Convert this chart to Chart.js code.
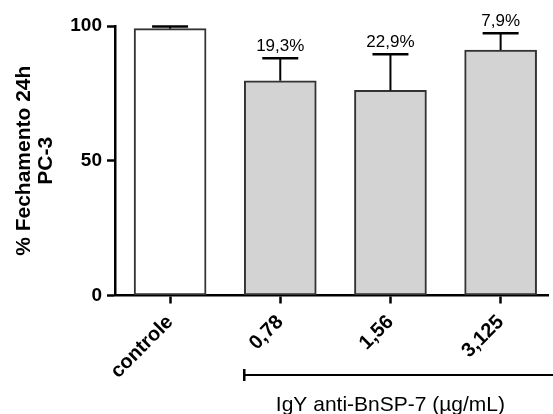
<!DOCTYPE html>
<html>
<head>
<meta charset="utf-8">
<script src="https://cdn.jsdelivr.net/npm/chart.js@4.4.1/dist/chart.umd.min.js"></script>
<style>
  html, body { margin: 0; padding: 0; background: #fff; }
  #wrap { width: 553px; height: 414px; }
</style>
</head>
<body>
<div id="wrap"><canvas id="c" width="553" height="414"></canvas></div>
<script>
// Wound closure after 24 h, PC-3 cells
const categories = ['controle', '0,78', '1,56', '3,125'];
const closure = [99.0, 79.7, 76.1, 91.1];       // mean % closure
const closureErr = [0.8, 8.3, 13.4, 6.2];       // upper error (SD)
const barColors = ['#ffffff', '#d3d3d3', '#d3d3d3', '#d3d3d3'];
const yTicks = [0, 50, 100];
const yTitle = ['% Fechamento 24h', 'PC-3'];
const groupLabel = 'IgY anti-BnSP-7 (\u00b5g/mL)';

const FONT = '"Liberation Sans", Arial, sans-serif';
const BAR_W = 72;

// reduction relative to the control, printed above each treated bar
function reductionText(i) {
  return (closure[0] - closure[i]).toFixed(1).replace('.', ',') + '%';
}

const errorBars = {
  id: 'errorBars',
  afterDatasetsDraw(chart) {
    const ctx = chart.ctx;
    const xs = chart.scales.x, ys = chart.scales.y;
    ctx.save();
    closure.forEach((v, i) => {
      const x = xs.getPixelForValue(i);
      const yTop = ys.getPixelForValue(v + closureErr[i]);
      const yBar = ys.getPixelForValue(v);
      ctx.strokeStyle = '#000';
      ctx.lineWidth = 2;
      ctx.beginPath();
      ctx.moveTo(x, yBar);
      ctx.lineTo(x, yTop);
      ctx.stroke();
      ctx.lineWidth = 2.5;
      ctx.beginPath();
      ctx.moveTo(x - BAR_W / 4, yTop);
      ctx.lineTo(x + BAR_W / 4, yTop);
      ctx.stroke();
      if (i > 0) {
        ctx.fillStyle = '#000';
        ctx.font = '17px ' + FONT;
        ctx.textAlign = 'center';
        ctx.textBaseline = 'alphabetic';
        ctx.fillText(reductionText(i), x, yTop - 7);
      }
    });
    ctx.restore();
  }
};

// bracket under the treated groups with its caption
const groupBracket = {
  id: 'groupBracket',
  afterDraw(chart) {
    const ctx = chart.ctx;
    const xs = chart.scales.x;
    const x1 = xs.getPixelForValue(1) - BAR_W / 2;
    const x2 = xs.getPixelForValue(3.5);
    const y = 375;
    ctx.save();
    ctx.strokeStyle = '#000';
    ctx.lineWidth = 2;
    ctx.beginPath();
    ctx.moveTo(x1, y);
    ctx.lineTo(x2, y);
    ctx.stroke();
    ctx.lineWidth = 2.5;
    ctx.beginPath();
    ctx.moveTo(x1, y - 6);
    ctx.lineTo(x1, y + 6);
    ctx.stroke();
    ctx.fillStyle = '#000';
    ctx.font = '21px ' + FONT;
    ctx.textAlign = 'center';
    ctx.textBaseline = 'alphabetic';
    const xc = (xs.getPixelForValue(1) + xs.getPixelForValue(3)) / 2;
    ctx.fillText(groupLabel, xc, 411);
    ctx.restore();
  }
};

new Chart(document.getElementById('c'), {
  type: 'bar',
  data: {
    datasets: [{
      data: closure.map((v, i) => ({ x: i, y: v })),
      backgroundColor: barColors,
      borderColor: '#333333',
      borderWidth: 2,
      borderSkipped: false,
      barThickness: BAR_W
    }]
  },
  options: {
    responsive: false,
    animation: false,
    devicePixelRatio: 1,
    layout: { padding: { top: 26, right: 5, left: 0, bottom: 0 } },
    plugins: { legend: { display: false }, tooltip: { enabled: false } },
    scales: {
      x: {
        type: 'linear',
        min: -0.5,
        max: 3.43,
        offset: false,
        z: 1,
        afterBuildTicks(scale) { scale.ticks = categories.map((_, i) => ({ value: i })); },
        afterFit(scale) { scale.height = 118.5; },
        grid: { display: true, drawOnChartArea: false, drawTicks: true, tickLength: 8, tickWidth: 2.5, tickColor: '#000', offset: false },
        border: { display: true, color: '#000', width: 2.5 },
        ticks: {
          autoSkip: false,
          maxRotation: 45,
          minRotation: 45,
          padding: 7,
          color: '#000',
          font: { family: FONT, size: 20, weight: 'bold' },
          callback: (v) => categories[v]
        }
      },
      y: {
        min: 0,
        max: 100,
        afterBuildTicks(scale) { scale.ticks = yTicks.map(v => ({ value: v })); },
        afterFit(scale) { scale.width = 115; },
        grid: { display: true, drawOnChartArea: false, drawTicks: true, tickLength: 8, tickWidth: 2.5, tickColor: '#000' },
        border: { display: true, color: '#000', width: 2.5 },
        ticks: {
          padding: 5,
          color: '#000',
          font: { family: FONT, size: 19, weight: 'bold' }
        },
        title: {
          display: true,
          text: yTitle,
          color: '#000',
          padding: { top: 13, bottom: 0 },
          font: { family: FONT, size: 21, weight: 'bold', lineHeight: 1.05 }
        }
      }
    }
  },
  plugins: [errorBars, groupBracket]
});
</script>
</body>
</html>
